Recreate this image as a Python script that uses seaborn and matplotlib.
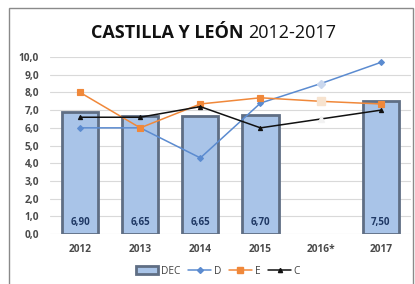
import numpy as np
import pandas as pd
import matplotlib
matplotlib.use("Agg")
import matplotlib.pyplot as plt
import seaborn as sns
from matplotlib.patches import Rectangle, Patch
from matplotlib.lines import Line2D

# Datos
years = ["2012", "2013", "2014", "2015", "2016*", "2017"]
dec = [6.90, 6.65, 6.65, 6.70, np.nan, 7.50]
dec_labels = ["6,90", "6,65", "6,65", "6,70", "", "7,50"]
serie_d = [6.0, 6.0, 4.3, 7.4, 8.5, 9.7]
serie_e = [8.0, 6.0, 7.35, 7.7, 7.5, 7.35]
serie_c = [6.6, 6.6, 7.2, 6.0, 6.5, 7.0]

df = pd.DataFrame({"year": years, "DEC": dec, "D": serie_d, "E": serie_e, "C": serie_c})

sns.set_style("white")
plt.rcParams["font.family"] = ["Open Sans", "DejaVu Sans"]

fig = plt.figure(figsize=(4.15, 2.84), dpi=100)
ax = fig.add_axes([0.1205, 0.176, 0.8695, 0.623])

# Barras DEC
sns.barplot(x="year", y="DEC", data=df, order=years, color="#a9c4e8",
            edgecolor="#5f6e84", linewidth=2.0, width=0.6, saturation=1, ax=ax, zorder=2)

# Líneas D, E, C
colores = {"D": "#5b8bd0", "E": "#f0883a", "C": "#111111"}
marcadores = {"D": "D", "E": "s", "C": "^"}
tamanos = {"D": 3, "E": 4.5, "C": 3}
for serie in ["D", "E", "C"]:
    sns.pointplot(x="year", y=serie, data=df, order=years, color=colores[serie],
                  markers=marcadores[serie], markersize=tamanos[serie], linewidth=1.1, ax=ax)

# Marcadores atenuados de 2016*
idx = years.index("2016*")
for serie, claro in [("D", "#c9d7ee"), ("E", "#f7e3cf"), ("C", "#f2f2f2")]:
    ax.plot(idx, df[serie][idx], marker=marcadores[serie], markersize=tamanos[serie] + 1.5,
            color=claro, linestyle="none", zorder=5)

# Etiquetas de las barras
for i, lab in enumerate(dec_labels):
    if lab:
        ax.text(i, 0.35, lab, ha="center", va="bottom", fontsize=7, fontweight="bold",
                color="#1f3864", zorder=6)

ax.set_ylim(0, 10)
ax.set_xlim(-0.5, 5.5)
ax.set_yticks(np.arange(0, 11, 1))
ax.set_yticklabels([f"{v:.1f}".replace(".", ",") for v in range(0, 11)])
ax.yaxis.grid(True, color="#d9d9d9", linewidth=0.8, zorder=0)
ax.set_axisbelow(True)
for s in ax.spines.values():
    s.set_visible(False)
ax.tick_params(axis="both", length=0, labelsize=7.3, labelcolor="#4a4a4a")
ax.tick_params(axis="x", pad=7)
ax.tick_params(axis="y", pad=8)
for t in ax.get_xticklabels() + ax.get_yticklabels():
    t.set_fontweight("bold")
ax.set_xlabel("")
ax.set_ylabel("")

# Título: parte en negrita y parte normal
fig.text(243 / 415, 1 - 33 / 284, "CASTILLA Y LEÓN", ha="right", va="center", fontsize=13,
         fontweight="bold", color="#111111")
fig.text(248 / 415, 1 - 33 / 284, "2012-2017", ha="left", va="center", fontsize=13, color="#111111")

# Leyenda
handles = [
    Patch(facecolor="#a9c4e8", edgecolor="#5f6e84", linewidth=2.0, label="DEC"),
    Line2D([0], [0], color=colores["D"], marker="D", markersize=3, linewidth=1.1, label="D"),
    Line2D([0], [0], color=colores["E"], marker="s", markersize=4, linewidth=1.1, label="E"),
    Line2D([0], [0], color=colores["C"], marker="^", markersize=3, linewidth=1.1, label="C"),
]
fig.legend(handles=handles, loc="center", bbox_to_anchor=(0.525, 1 - 271 / 284), ncol=4, frameon=False,
           fontsize=7.3, handlelength=2.2, handletextpad=0.3, columnspacing=0.8,
           labelcolor="#404040")

# Marco exterior
fig.patches.append(Rectangle((9 / 415, -0.1), 404 / 415, 1.1 - 8 / 284, transform=fig.transFigure,
                             fill=False, edgecolor="#8a8a8a", linewidth=1.0))

fig.savefig("out.png", dpi=100)
